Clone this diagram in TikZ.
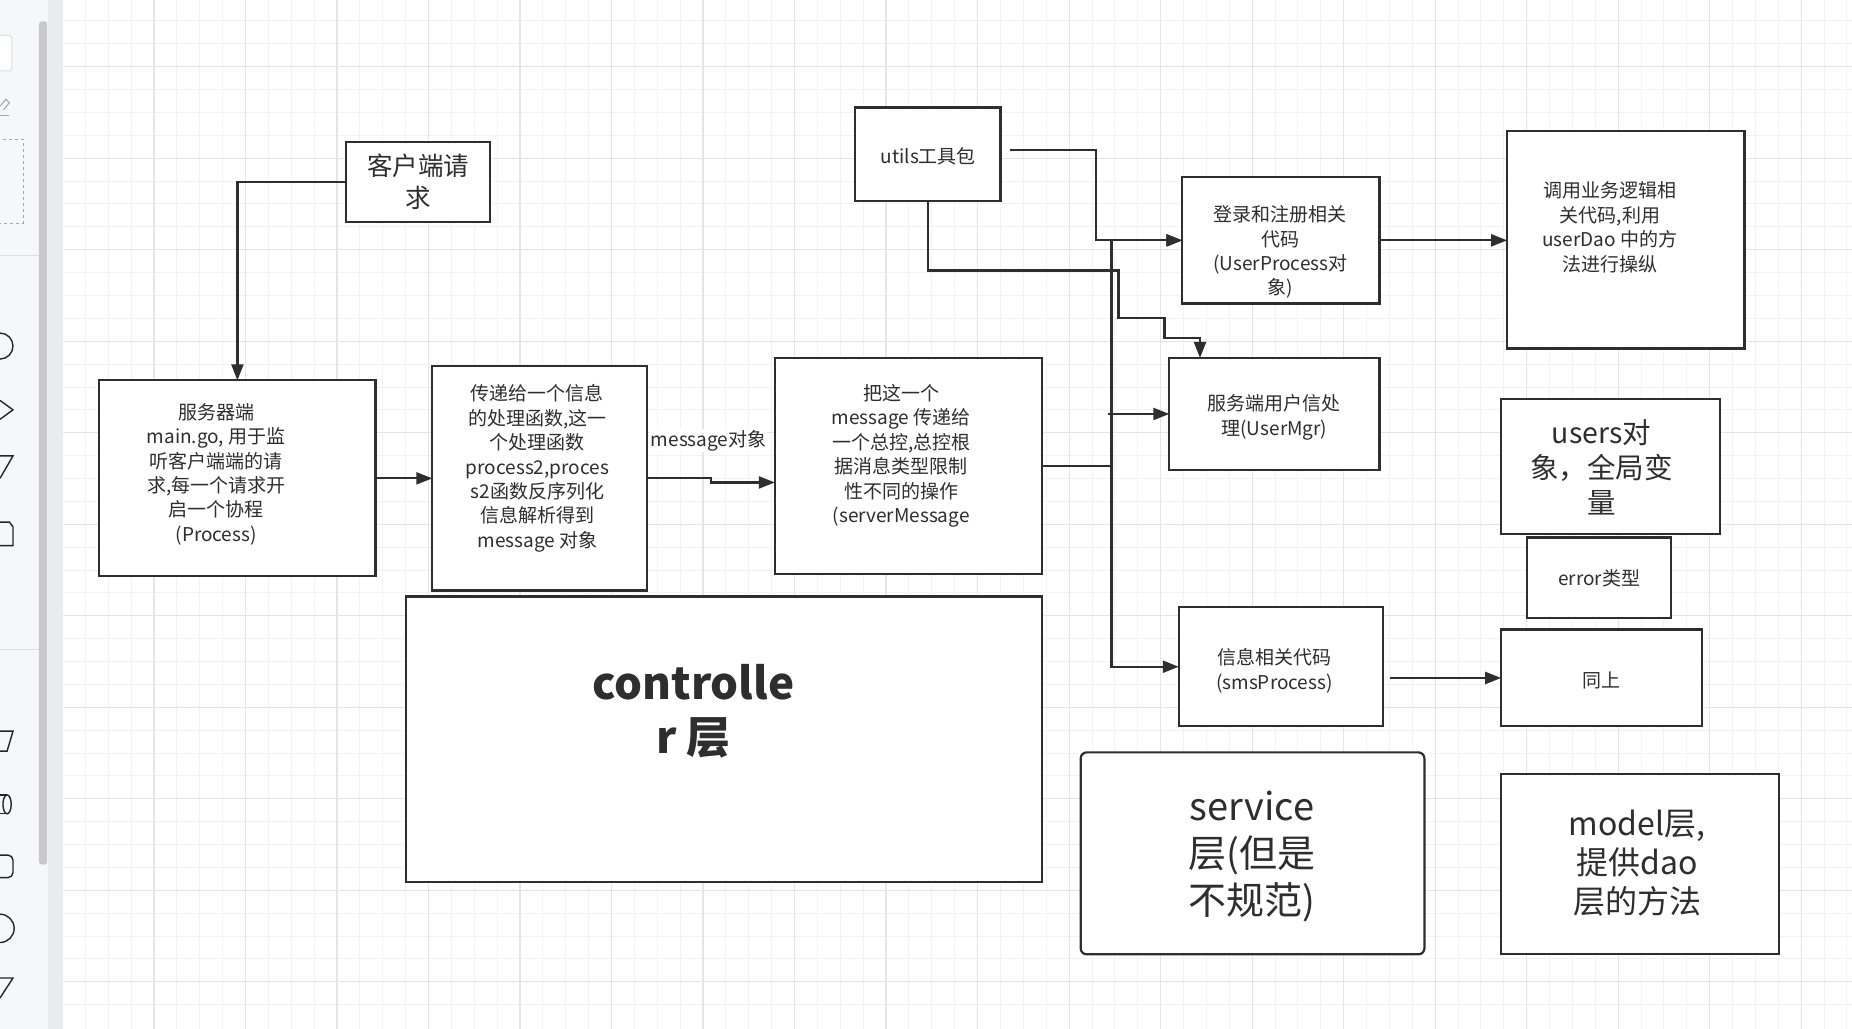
\documentclass[tikz,border=0pt]{standalone}
\usepackage{fontspec}
\setmainfont{Noto Sans CJK SC}
\usetikzlibrary{arrows.meta,calc}
\definecolor{ink}{HTML}{2E2E2E}
\definecolor{gminor}{HTML}{F3F3F3}
\definecolor{gmajor}{HTML}{E5E5E5}
\definecolor{sbpanel}{HTML}{F6F7F8}
\definecolor{sbstrip}{HTML}{EAEBEC}
\definecolor{sbbar}{HTML}{C9C9C9}
\definecolor{sbline}{HTML}{DEDFE0}
\newcommand\dbox[6]{\node[#6, minimum width={(#4-#2)*1.1811pt}, minimum height={(#5-#3)*1.1811pt}] (#1) at ({(#2+#4)/2},{(#3+#5)/2}) {};}
\tikzset{
  box/.style={draw=ink, line width=2.2pt, fill=white, rectangle, inner sep=0pt, outer sep=0pt},
  txt/.style={text=ink, align=center, inner sep=0pt, font=\fontsize{19}{24.4}\selectfont},
  conn/.style={draw=ink, line width=2.2pt},
  arr/.style={conn, -{Triangle[length=16pt,width=12pt]}},
  gridminor/.style={draw=gminor, line width=1pt},
  gridmajor/.style={draw=gmajor, line width=1.2pt},
  sbshape/.style={draw=black!85, line width=1.4pt},
}
\begin{document}
\begin{tikzpicture}[x=1.1811pt,y=-1.1811pt]
\useasboundingbox (0,0) rectangle (1568.03,871.2);
% canvas and grid
\fill[white] (0,0) rectangle (1568.03,871.2);
\foreach \i in {0,...,78} {\draw[gridminor] ({52.9+19.37*\i},0) -- ++(0,871.2);}
\foreach \j in {1,...,45} {\draw[gridminor] (53,{-21+19.37*\j}) -- (1568.03,{-21+19.37*\j});}
\foreach \i in {0,...,19} {\draw[gridmajor] ({52.9+77.48*\i},0) -- ++(0,871.2);}
\foreach \j in {1,...,11} {\draw[gridmajor] (53,{-21+77.48*\j}) -- (1568.03,{-21+77.48*\j});}
% sidebar
\fill[sbpanel] (0,0) rectangle (41,871.2);
\fill[sbstrip] (41,0) rectangle (53,871.2);
\fill[sbbar, rounded corners=3pt] (33,18) rectangle (40,732);
\draw[sbline, line width=1pt] (0,216) -- (33,216);
\draw[sbline, line width=1pt] (0,550) -- (33,550);
\begin{scope}
\clip (0,0) rectangle (31,871.2);
\draw[fill=white, draw=sbline, rounded corners=3pt, line width=1pt] (-6,30) rectangle (10,60);
\draw[draw=gray!70, line width=1pt] (0,90) -- (5,84) -- (8,87) -- (3,93);
\draw[draw=gray!70, line width=1pt] (-2,98) -- (8,98);
\draw[draw=gray!70, dashed, line width=0.8pt] (-2,118) rectangle (19.5,189);
\draw[sbshape] (0,293) circle (11);
\draw[sbshape] (0,339) -- (11,347) -- (0,355);
\draw[sbshape] (0,386) -- (11,386) -- (0,405);
\draw[sbshape] (0,442) -- (8,442) -- (11,446) -- (11,462) -- (0,462);
\draw[sbshape] (0,619) -- (11,619) -- (6,636) -- (0,636);
\draw[sbshape] (0,673) -- (6,673) (0,689) -- (6,689);
\draw[sbshape] (6,681) ellipse (3.5 and 8);
\draw[sbshape, rounded corners=5pt] (-12,724) rectangle (11,743);
\draw[sbshape] (0,786) circle (12);
\draw[sbshape] (0,828) -- (11,828) -- (0,845);
\end{scope}
% boxes
\dbox{kh}{293}{120}{415}{188}{box}
\dbox{fw}{84}{322}{318}{488}{box}
\dbox{cd}{366}{310}{548}{500}{box}
\dbox{bz}{656}{303}{882}{486}{box}
\dbox{ut}{724}{91}{847}{170}{box}
\dbox{dl}{1001}{150}{1168}{257}{box}
\dbox{dy}{1276}{111}{1477}{295}{box}
\dbox{fu}{990}{303}{1168}{398}{box}
\dbox{us}{1271}{338}{1456}{452}{box}
\dbox{er}{1293}{455}{1415}{523}{box}
\dbox{xx}{998}{514}{1171}{615}{box}
\dbox{tb}{1271}{533}{1441}{615}{box}
\dbox{ct}{344}{505}{882}{747}{box}
\dbox{sv}{915}{637}{1206}{808}{box, rounded corners=6pt}
\dbox{md}{1271}{655}{1506}{808}{box}
% texts
\node[txt, font=\fontsize{25.5}{32}\selectfont] (kh-t) at (354,154) {客户端请\\求};
\node[txt] (fw-t) at (183,401.5) {服务器端\\main.go, 用于监\\听客户端端的请\\求,每一个请求开\\启一个协程\\(Process)};
\node[txt] (cd-t) at (455,396.5) {传递给一个信息\\的处理函数,这一\\个处理函数\\process2,proces\\s2函数反序列化\\信息解析得到\\message 对象};
\node[txt] (bz-t) at (763,386) {把这一个\\message 传递给\\一个总控,总控根\\据消息类型限制\\性不同的操作\\(serverMessage};
\node[txt] (ut-t) at (786,132) {utils工具包};
\node[txt] (dl-t) at (1084,213.5) {登录和注册相关\\代码\\(UserProcess对\\象)};
\node[txt] (dy-t) at (1363,192.5) {调用业务逻辑相\\关代码,利用\\userDao 中的方\\法进行操纵};
\node[txt] (fu-t) at (1079,353.5) {服务端用户信处\\理(UserMgr)};
\node[txt, font=\fontsize{28.5}{35}\selectfont] (us-t) at (1356,396) {users对\\象，全局变\\量};
\node[txt] (er-t) at (1354,490) {error类型};
\node[txt] (xx-t) at (1079,568) {信息相关代码\\(smsProcess)};
\node[txt] (tb-t) at (1356,576) {同上};
\node[txt, font=\fontsize{44}{54}\selectfont\bfseries] (ct-t) at (587,602) {controlle\\r 层};
\node[txt, font=\fontsize{38}{47}\selectfont] (sv-t) at (1060,725) {service\\层(但是\\不规范)};
\node[txt, font=\fontsize{32}{39}\selectfont] (md-t) at (1386,731) {model层,\\提供dao\\层的方法};
% connector coordinates
\coordinate (j1) at (602,408.5);
\coordinate (b1) at (941,203.5);
\coordinate (b2) at (938,350.5);
\coordinate (b3) at (941,564.5);
\coordinate (u1) at (855,127);
\coordinate (u2) at (928,203.5);
\coordinate (u3) at (947,229);
\coordinate (u4) at (986,269);
\coordinate (u5) at (1016,286);
% connectors
\draw[arr] (kh.west) -| (fw.north);
\draw[arr] (fw.east) -- (cd.west);
\draw[arr] (cd.east) -| (j1) -- (j1 -| bz.west);
\node[txt, fill=white, inner sep=1pt] (msg) at (600,373) {message对象};
\draw[arr] (bz.east) -| (b1) -- (dl.west);
\draw[arr] (bz.east) -| (b3) -- (xx.west);
\draw[arr] (b2) -- (fu.west);
\draw[arr] (u1) -| (u2) -- (dl.west);
\draw[arr] (ut.south) |- (u3) |- (u4) |- (u5) -- (u5 |- fu.north);
\draw[arr] (dl.east) -- (dl.east -| dy.west);
\draw[arr] ([xshift=7pt]xx.east |- tb.west) -- (tb.west);
\end{tikzpicture}
\end{document}
